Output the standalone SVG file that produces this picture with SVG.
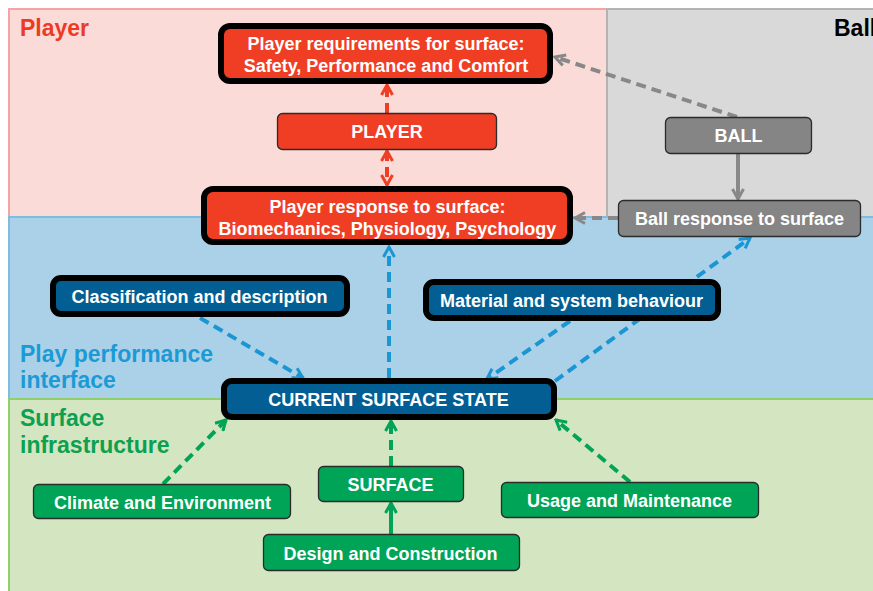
<svg xmlns="http://www.w3.org/2000/svg" width="873" height="591" viewBox="0 0 873 591">
<style>
.lbl{font-family:"Liberation Sans",Arial,sans-serif;font-weight:bold;font-size:18px;fill:#fff;text-anchor:middle}
.band{font-family:"Liberation Sans",Arial,sans-serif;font-weight:bold;font-size:23px}
.thick{stroke:#000;stroke-width:6}
.thin{stroke:#2b2b2b;stroke-width:1.3}
.red{fill:#f03e24}.blue{fill:#035f93}.green{fill:#00a457}.gray{fill:#858585}
.c{fill:none;stroke-width:4}
.d{stroke-dasharray:10 6}
</style>
<defs>
<marker id="ar" viewBox="0 0 14 14" refX="12" refY="7" markerWidth="14" markerHeight="14" markerUnits="userSpaceOnUse" orient="auto-start-reverse"><path d="M2,1.5 L12,7 L2,12.5" fill="none" stroke="#f03e24" stroke-width="3"/></marker>
<marker id="ag" viewBox="0 0 14 14" refX="12" refY="7" markerWidth="14" markerHeight="14" markerUnits="userSpaceOnUse" orient="auto"><path d="M2,1.5 L12,7 L2,12.5" fill="none" stroke="#888" stroke-width="3"/></marker>
<marker id="ab" viewBox="0 0 14 14" refX="12" refY="7" markerWidth="14" markerHeight="14" markerUnits="userSpaceOnUse" orient="auto"><path d="M2,1.5 L12,7 L2,12.5" fill="none" stroke="#1a96d4" stroke-width="3"/></marker>
<marker id="an" viewBox="0 0 14 14" refX="12" refY="7" markerWidth="14" markerHeight="14" markerUnits="userSpaceOnUse" orient="auto"><path d="M2,1.5 L12,7 L2,12.5" fill="none" stroke="#00a457" stroke-width="3"/></marker>
</defs>
<rect width="873" height="591" fill="#fff"/>
<g id="bands">
<rect x="9" y="9" width="598" height="208" fill="#fadbd8" stroke="#f5a3a3" stroke-width="2"/>
<rect x="607" y="9" width="270" height="208" fill="#d9d9d9" stroke="#b3b3b3" stroke-width="2"/>
<rect x="9" y="217" width="868" height="182" fill="#abd1e8" stroke="#7fbde0" stroke-width="2"/>
<rect x="9" y="399" width="868" height="196" fill="#d3e5c1" stroke="#8fd06b" stroke-width="2"/>
<text class="band" x="20" y="36" fill="#ec3b24">Player</text>
<text class="band" x="834" y="36" fill="#000">Ball</text>
<text class="band" x="20" y="362" fill="#1c9ad6">Play performance</text>
<text class="band" x="20" y="388" fill="#1c9ad6">interface</text>
<text class="band" x="20" y="426" fill="#0ca050">Surface</text>
<text class="band" x="20" y="453" fill="#0ca050">infrastructure</text>
</g>
<g id="connectors">
<line class="c d" x1="387" y1="113" x2="387" y2="85" stroke="#f03e24" marker-end="url(#ar)"/>
<line class="c d" x1="387" y1="151" x2="387" y2="185" stroke="#f03e24" marker-start="url(#ar)" marker-end="url(#ar)"/>
<line class="c d" x1="737" y1="117" x2="555" y2="57" stroke="#888" marker-end="url(#ag)"/>
<line class="c" x1="738" y1="154" x2="738" y2="199" stroke="#888" marker-end="url(#ag)"/>
<line class="c d" x1="618" y1="218" x2="575" y2="218" stroke="#888" marker-end="url(#ag)"/>
<line class="c d" x1="389" y1="378" x2="389" y2="247" stroke="#1a96d4" marker-end="url(#ab)"/>
<line class="c d" x1="200" y1="318" x2="303" y2="378" stroke="#1a96d4" marker-end="url(#ab)"/>
<line class="c d" x1="570" y1="321" x2="487" y2="379" stroke="#1a96d4" marker-end="url(#ab)"/>
<line class="c d" x1="555" y1="381" x2="750" y2="238" stroke="#1a96d4" marker-end="url(#ab)"/>
<line class="c d" x1="163" y1="484" x2="226" y2="420" stroke="#00a457" marker-end="url(#an)"/>
<line class="c d" x1="391" y1="466" x2="391" y2="421" stroke="#00a457" marker-end="url(#an)"/>
<line class="c" x1="391" y1="534" x2="391" y2="503" stroke="#00a457" marker-end="url(#an)"/>
<line class="c d" x1="630" y1="482" x2="556" y2="420" stroke="#00a457" marker-end="url(#an)"/>
</g>
<g id="player-req"><rect class="red thick" x="221" y="26" width="329" height="55" rx="9"/><text class="lbl" x="386" y="50">Player requirements for surface:</text><text class="lbl" x="386" y="72">Safety, Performance and Comfort</text></g>
<g id="player"><rect class="red thin" x="277.5" y="113.5" width="219" height="36" rx="5"/><text class="lbl" x="387" y="138">PLAYER</text></g>
<g id="player-resp"><rect class="red thick" x="204" y="189" width="366" height="53" rx="9"/><text class="lbl" x="387.5" y="213">Player response to surface:</text><text class="lbl" x="387.5" y="235">Biomechanics, Physiology, Psychology</text></g>
<g id="ball"><rect class="gray thin" x="665.5" y="117.5" width="146" height="36" rx="5"/><text class="lbl" x="738.5" y="142">BALL</text></g>
<g id="ball-resp"><rect class="gray thin" x="618.5" y="200.5" width="242" height="36" rx="5"/><text class="lbl" x="739.5" y="225">Ball response to surface</text></g>
<g id="classification"><rect class="blue thick" x="53" y="278" width="294" height="36" rx="8"/><text class="lbl" x="199.5" y="303">Classification and description</text></g>
<g id="material"><rect class="blue thick" x="426" y="282" width="292" height="36" rx="8"/><text class="lbl" x="571.5" y="307">Material and system behaviour</text></g>
<g id="current"><rect class="blue thick" x="224" y="381" width="330" height="36" rx="8"/><text class="lbl" x="388.5" y="405.5">CURRENT SURFACE STATE</text></g>
<g id="climate"><rect class="green thin" x="33.5" y="484.5" width="257" height="34" rx="5"/><text class="lbl" x="162.5" y="509">Climate and Environment</text></g>
<g id="surface"><rect class="green thin" x="318.5" y="466.5" width="145" height="35" rx="5"/><text class="lbl" x="390.5" y="491">SURFACE</text></g>
<g id="design"><rect class="green thin" x="263.5" y="534.5" width="256" height="36" rx="5"/><text class="lbl" x="390.5" y="560">Design and Construction</text></g>
<g id="usage"><rect class="green thin" x="501.5" y="482.5" width="257" height="35" rx="5"/><text class="lbl" x="629.5" y="507">Usage and Maintenance</text></g>
</svg>
